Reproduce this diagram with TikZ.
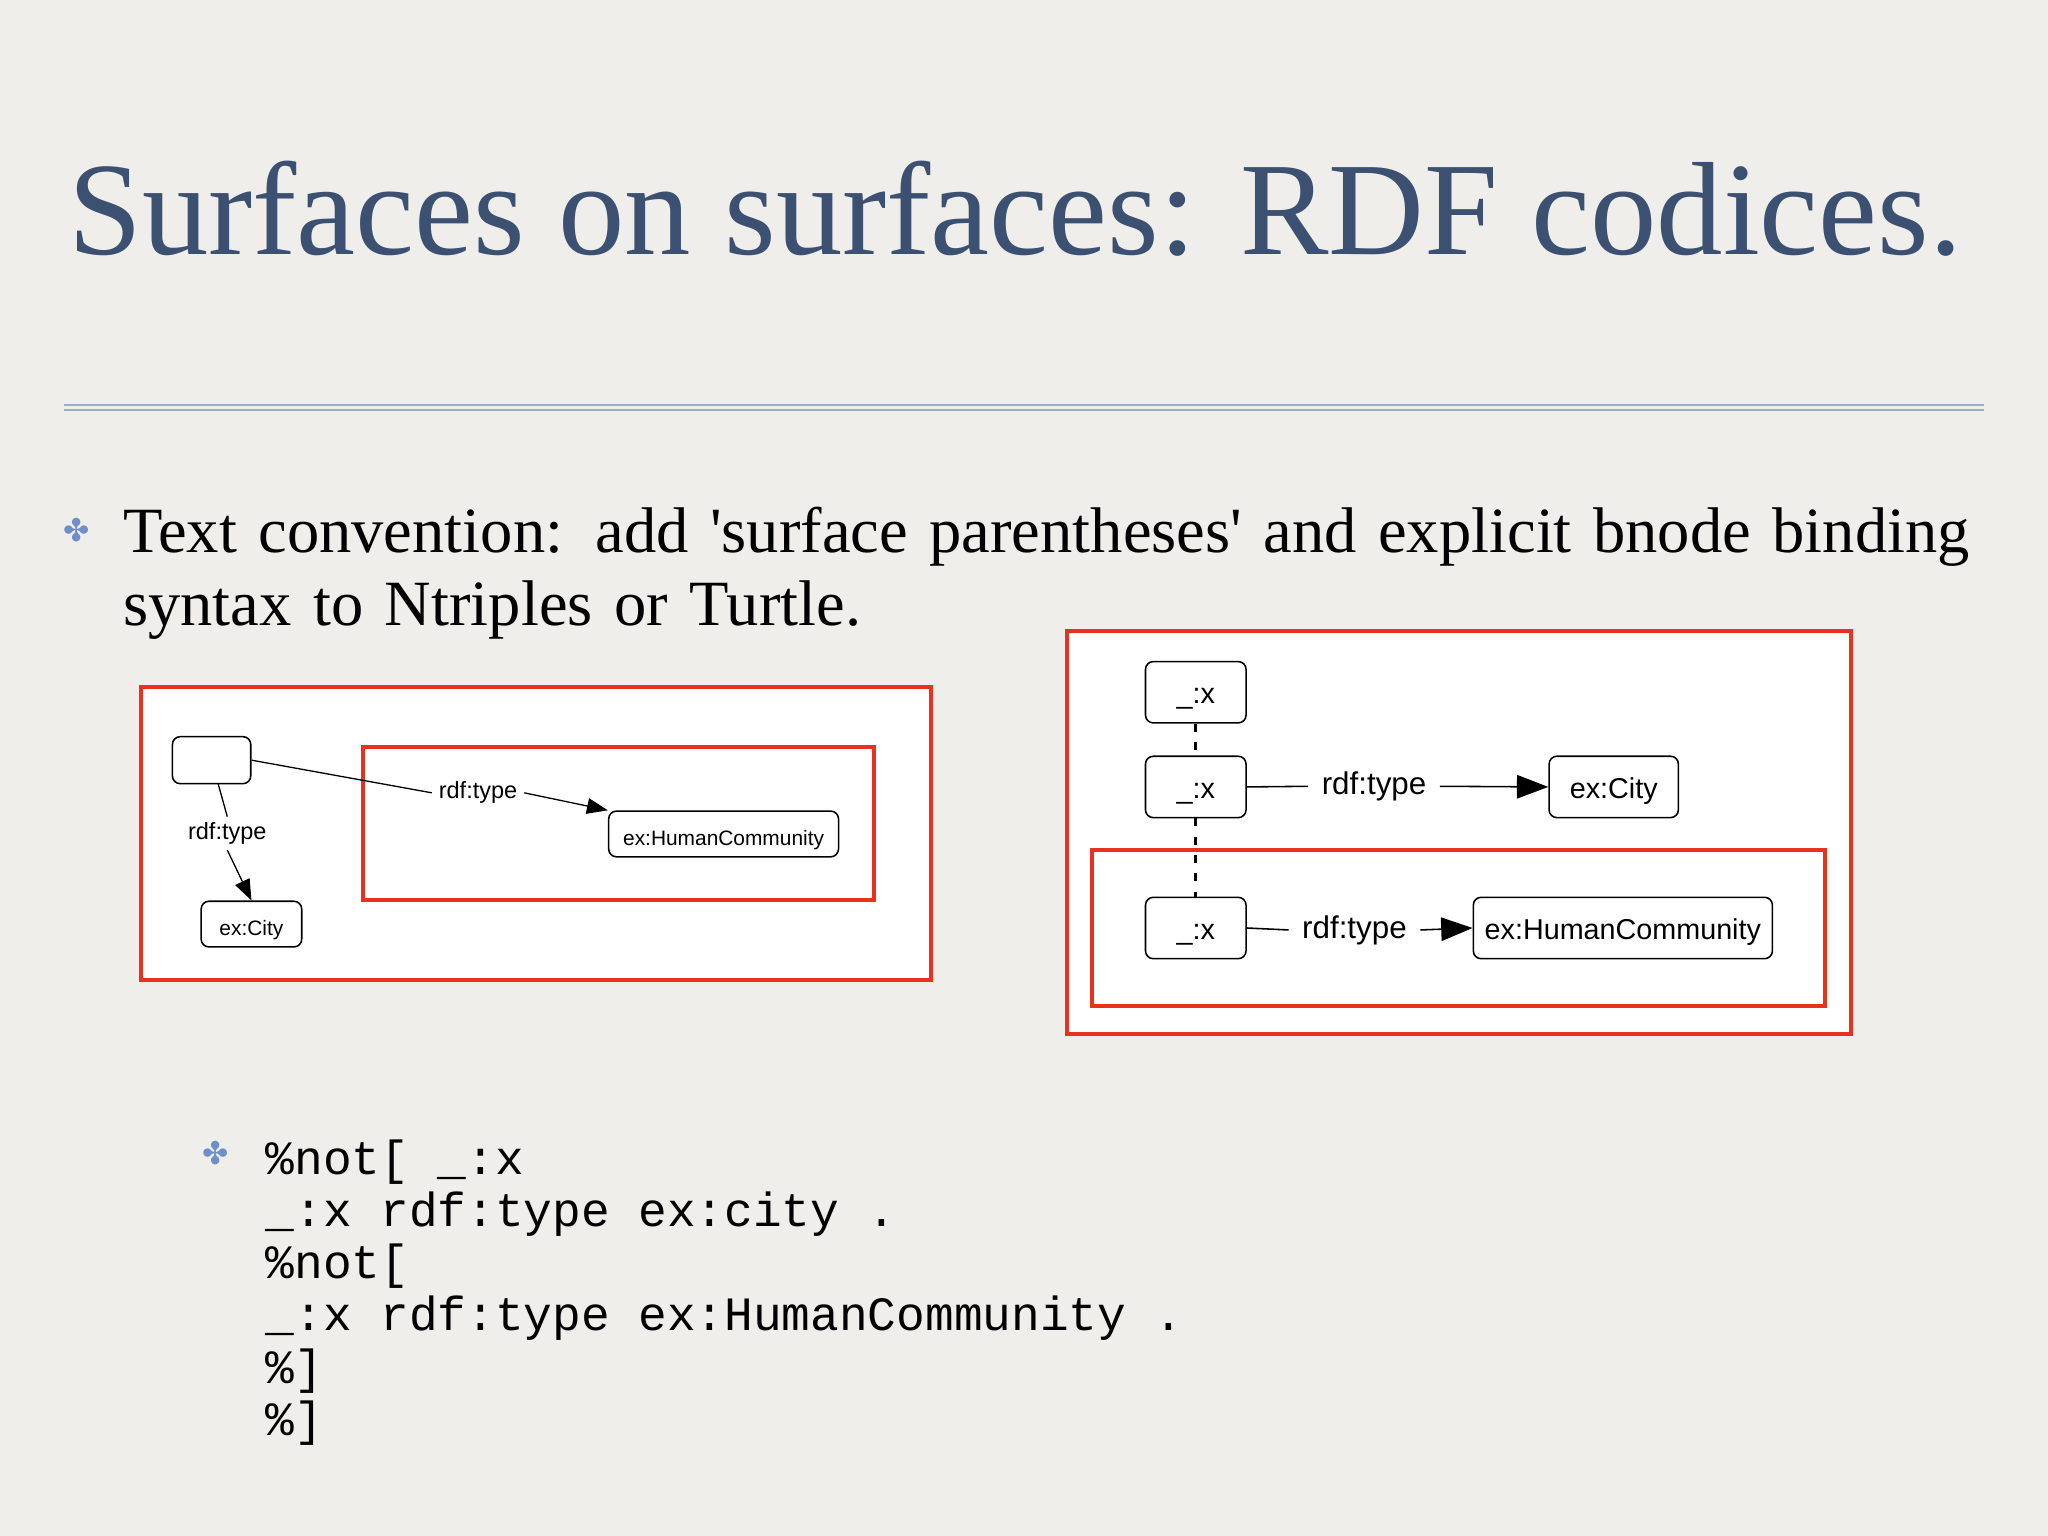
\documentclass[tikz,border=0pt]{standalone}
\usepackage{fontspec}
\setmainfont{Liberation Serif}
\setsansfont{Liberation Sans}
\setmonofont{Liberation Mono}
\newfontfamily\dejavu{DejaVu Sans}
\usetikzlibrary{arrows.meta}
\definecolor{bg}{HTML}{EFEEEA}
\definecolor{titleblue}{HTML}{3C5172}
\definecolor{rulebl}{HTML}{9AAAD0}
\definecolor{bulbl}{HTML}{6F8FC8}
\definecolor{redb}{HTML}{E8321E}
\tikzset{
 redbox/.style={draw=redb,line width=1.5pt},
 gnode/.style={draw,rounded corners=3pt,fill=white,line width=0.6pt,inner sep=0pt,font=\sffamily,text depth=0pt,text height=0.85em},
 elab/.style={font=\sffamily,inner sep=5pt},
 arr/.style={-{Triangle[length=12pt,width=9pt]},line width=0.6pt},
 arrs/.style={-{Triangle[length=8pt,width=6pt]},line width=0.5pt},
 dotl/.style={dash pattern=on 3pt off 4pt,line width=1.2pt},
 bul/.style={text=bulbl,font=\dejavu\fontsize{12}{12}\selectfont}
}
\begin{document}
\begin{tikzpicture}[x=0.5pt,y=-0.5pt]
\fill[bg] (0,0) rectangle (1568,1176);
\useasboundingbox (0,0) rectangle (1568,1176);
\node[anchor=west,text=titleblue,font=\fontsize{50.8}{54}\selectfont,inner sep=0] (title) at (52,160) {Surfaces on surfaces: RDF codices.};
\draw[rulebl,line width=0.5pt] (49,310) -- (1519,310) (49,314) -- (1519,314);
\node[bul] (b1) at (59,406) {✤};
\node[anchor=north west,align=left,font=\fontsize{24.7}{28}\selectfont,inner sep=0,text width=720pt] (txt) at (94,388)
 {Text convention: add \textquotesingle surface parentheses\textquotesingle{} and explicit bnode binding\\ syntax to Ntriples or Turtle.};
% left diagram
\draw[redbox,fill=white] (108,526) rectangle (713,750);
\draw[redbox] (278,572) rectangle (669,689);
\node[gnode,minimum width=30pt,minimum height=18pt] (blank) at (162,582) {};
\node[gnode,minimum width=38.5pt,minimum height=17.5pt,font=\sffamily\fontsize{8}{8}\selectfont] (city) at (192.5,707.5) {ex:City};
\node[gnode,minimum width=88pt,minimum height=17.5pt,font=\sffamily\fontsize{8}{8}\selectfont] (hc) at (554,638.5) {ex:HumanCommunity};
\node[elab,inner sep=2pt,font=\sffamily\fontsize{9}{9}\selectfont] (l1) at (174,638) {rdf:type};
\node[elab,inner sep=2.5pt,font=\sffamily\fontsize{9}{9}\selectfont] (l2) at (366,607) {rdf:type};
\draw[line width=0.5pt] (blank.east) -- (l2.west);
\draw[arrs] (l2.east) -- (hc.north west);
\draw[line width=0.5pt] (167,600) -- (l1.north);
\draw[arrs] (l1.south) -- (city.north);
% right diagram
\draw[redbox,fill=white] (817,483) rectangle (1417,792);
\draw[redbox] (836,651) rectangle (1397,770);
\tikzset{bx/.style={gnode,minimum width=38.5pt,minimum height=23.5pt,font=\sffamily\fontsize{11}{11}\selectfont}}
\node[bx] (x1) at (915.5,530) {\_:x};
\node[bx] (x2) at (915.5,602.5) {\_:x};
\node[bx] (x3) at (915.5,710.5) {\_:x};
\node[bx,minimum width=49.5pt] (rc) at (1235.5,602.5) {ex:City};
\node[bx,minimum width=114.5pt] (rh) at (1242.5,710.5) {ex:HumanCommunity};
\node[elab,font=\sffamily\fontsize{12}{12}\selectfont] (r1) at (1052,602) {rdf:type};
\node[elab,font=\sffamily\fontsize{12}{12}\selectfont] (r2) at (1037,712) {rdf:type};
\draw[line width=0.6pt] (x2.east) -- (r1.west);
\draw[arr] (r1.east) -- (rc.west);
\draw[line width=0.6pt] (x3.east) -- (r2.west);
\draw[arr] (r2.east) -- (rh.west);
\draw[dotl] (x1.south) -- (x2.north);
\draw[dotl] (x2.south) -- (x3.north);
% code
\node[bul] (b2) at (165,883) {✤};
\node[anchor=north west,align=left,font=\ttfamily\fontsize{18.3}{20}\selectfont,inner sep=0] (code) at (203,872)
 {\%not[ \_:x\\ \_:x rdf:type ex:city .\\ \%not[\\ \_:x rdf:type ex:HumanCommunity .\\ \%]\\ \%]};
\end{tikzpicture}
\end{document}
